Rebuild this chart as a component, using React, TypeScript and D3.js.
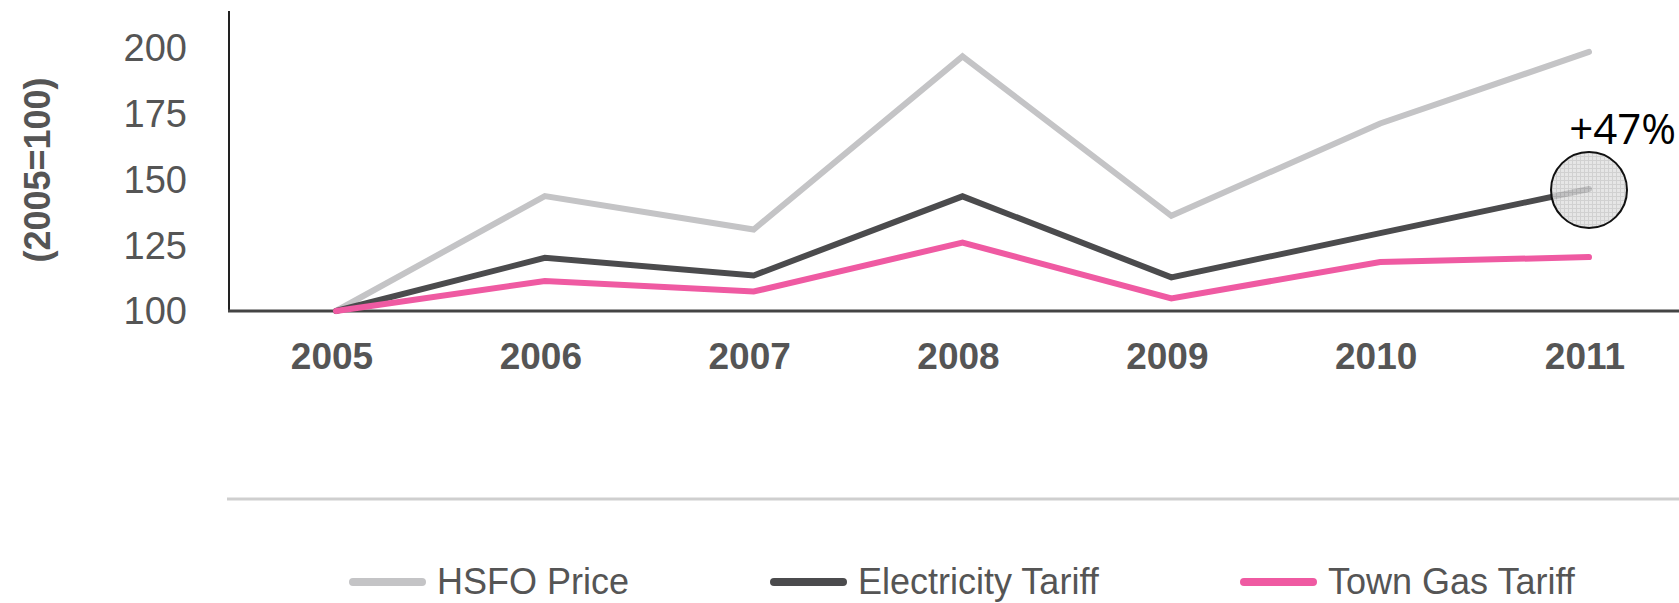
import React from "react";
import * as d3 from "d3";

const years = ["2005", "2006", "2007", "2008", "2009", "2010", "2011"];
const hsfo = [100, 143.7, 131, 196.8, 136.2, 171.3, 198.5];
const electricity = [100, 120.2, 113.5, 143.6, 112.8, 129.6, 146.4];
const townGas = [100, 111.4, 107.4, 126, 104.8, 118.6, 120.5];
const yTicks = [100, 125, 150, 175, 200];
const seriesNames = ["HSFO Price", "Electricity Tariff", "Town Gas Tariff"];
const seriesColors = ["#c4c4c6", "#4b4b4d", "#ef5aa2"];
const annotationLabel = "+47%";

const W = 1679;
const H = 603;

export default function App() {
  const x = d3.scalePoint<string>().domain(years).range([336, 1589]);
  const y = d3.scaleLinear().domain([100, 200]).range([311, 48]);
  const line = d3
    .line<number>()
    .x((_, i) => x(years[i]) as number)
    .y((d) => y(d));

  const series = [hsfo, electricity, townGas];
  const legendX = [349, 770, 1240];
  const font = "'Liberation Sans', Arial, Helvetica, sans-serif";
  const lastX = x(years[years.length - 1]) as number;
  const lastY = y(electricity[electricity.length - 1]);

  return (
    <svg
      width={W}
      height={H}
      style={{ position: "absolute", left: 0, top: 0, background: "#fff" }}
    >
      <defs>
        <pattern id="grid" width="4" height="4" patternUnits="userSpaceOnUse">
          <rect width="4" height="4" fill="#e0e0e0" />
          <path d="M0 0.5H4M0.5 0V4" stroke="#c6c6c6" strokeWidth="1" />
        </pattern>
      </defs>

      {/* y axis title */}
      <text
        transform="translate(50,170) rotate(-90)"
        textAnchor="middle"
        fontFamily={font}
        fontWeight="bold"
        fontSize={36}
        fill="#555"
      >
        (2005=100)
      </text>

      {/* y tick labels */}
      {yTicks.map((t) => (
        <text
          key={t}
          x={187}
          y={y(t)}
          dy="0.35em"
          textAnchor="end"
          fontFamily={font}
          fontSize={38}
          fill="#555"
        >
          {t}
        </text>
      ))}

      {/* axes */}
      <line x1={229} x2={229} y1={11} y2={y(100)} stroke="#222" strokeWidth={2} />
      <line x1={228} x2={W} y1={y(100)} y2={y(100)} stroke="#444" strokeWidth={3} />

      {/* x tick labels */}
      {years.map((yr) => (
        <text
          key={yr}
          x={(x(yr) as number) - 4}
          y={369}
          textAnchor="middle"
          fontFamily={font}
          fontWeight="bold"
          fontSize={37}
          fill="#555"
        >
          {yr}
        </text>
      ))}

      {/* lines */}
      {series.map((s, i) => (
        <path
          key={i}
          d={line(s) || ""}
          fill="none"
          stroke={seriesColors[i]}
          strokeWidth={6}
          strokeLinejoin="miter"
          strokeLinecap="round"
        />
      ))}

      {/* annotation */}
      <circle
        cx={lastX}
        cy={lastY + 1}
        r={38}
        fill="url(#grid)"
        fillOpacity={0.8}
        stroke="#111"
        strokeWidth={2}
      />
      <text
        x={1676}
        y={144}
        textAnchor="end"
        fontFamily="'Open Sans', sans-serif"
        fontSize={42}
        fill="#000"
      >
        {annotationLabel}
      </text>

      {/* separator */}
      <line x1={227} x2={W} y1={499} y2={499} stroke="#cfcfcf" strokeWidth={3} />

      {/* legend */}
      {seriesNames.map((n, i) => (
        <g key={n}>
          <line
            x1={legendX[i] + 4}
            x2={legendX[i] + 73}
            y1={582}
            y2={582}
            stroke={seriesColors[i]}
            strokeWidth={8}
            strokeLinecap="round"
          />
          <text
            x={legendX[i] + 88}
            y={594}
            fontFamily={font}
            fontSize={36}
            fill="#555"
          >
            {n}
          </text>
        </g>
      ))}
    </svg>
  );
}
